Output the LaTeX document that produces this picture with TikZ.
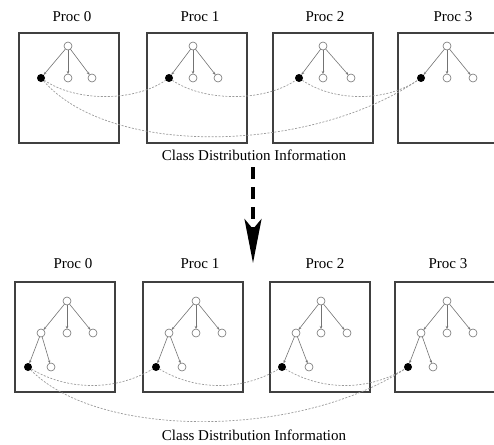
\documentclass[tikz,border=0pt]{standalone}
\usepackage{fontspec}
\setmainfont{Liberation Serif}
\usetikzlibrary{arrows.meta}
\colorlet{box color}{black!75}
\colorlet{edge color}{black!55}
\colorlet{link color}{black!40}
\tikzset{
    x={1pt},
    y={-1pt},
    proc box/.style={
        draw=box color,
        line width={1.4pt},
        minimum width={100},
        minimum height={110},
        inner sep=0pt,
    },
    proc label/.style={
        font={\fontsize{15}{17}\selectfont},
        inner sep=0pt,
    },
    info label/.style={
        font={\fontsize{15}{17}\selectfont},
        inner sep=0pt,
    },
    tree node/.style={
        circle, draw=edge color, fill=white,
        line width={0.6pt},
        inner sep=0pt, outer sep=0pt,
        minimum size={8},
    },
    class node/.style={
        circle, fill=black,
        inner sep=0pt, outer sep=0pt,
        minimum size={8},
    },
    tree edge/.style={
        draw=edge color,
        line width={0.6pt},
        -{Stealth[length=3pt,width=2.5pt]},
    },
    class link/.style={
        draw=link color,
        line width={0.7pt},
        dash pattern=on 2pt off 1.5pt,
    },
    flow arrow/.style={
        draw=black,
        line width={3.5pt},
        dash pattern=on 12pt off 8pt,
        -{Stealth[length=44pt,width=17pt,inset=10pt]},
    },
}

\begin{document}
\begin{tikzpicture}
\useasboundingbox (0,0) rectangle (494,444);
% processors before
\node[proc box] (top0) at (69,88) {};
\node[proc box] (top1) at (197,88) {};
\node[proc box] (top2) at (323,88) {};
\node[proc box] (top3) at (448,88) {};
\node[proc label] (top0 label) at (72,17) {Proc 0};
\node[proc label] (top1 label) at (200,17) {Proc 1};
\node[proc label] (top2 label) at (325,17) {Proc 2};
\node[proc label] (top3 label) at (453,17) {Proc 3};
% trees before
\node[tree node] (t0 root) at (68,46) {};
\node[class node] (t0 class) at (41,78) {};
\node[tree node] (t0 mid) at (68,78) {};
\node[tree node] (t0 right) at (92,78) {};
\node[tree node] (t1 root) at (193,46) {};
\node[class node] (t1 class) at (169,78) {};
\node[tree node] (t1 mid) at (193,78) {};
\node[tree node] (t1 right) at (218,78) {};
\node[tree node] (t2 root) at (323,46) {};
\node[class node] (t2 class) at (299,78) {};
\node[tree node] (t2 mid) at (323,78) {};
\node[tree node] (t2 right) at (351,78) {};
\node[tree node] (t3 root) at (447,46) {};
\node[class node] (t3 class) at (421,78) {};
\node[tree node] (t3 mid) at (447,78) {};
\node[tree node] (t3 right) at (473,78) {};
\path[tree edge] (t0 root) -- (t0 class);
\path[tree edge] (t0 root) -- (t0 mid);
\path[tree edge] (t0 root) -- (t0 right);
\path[tree edge] (t1 root) -- (t1 class);
\path[tree edge] (t1 root) -- (t1 mid);
\path[tree edge] (t1 root) -- (t1 right);
\path[tree edge] (t2 root) -- (t2 class);
\path[tree edge] (t2 root) -- (t2 mid);
\path[tree edge] (t2 root) -- (t2 right);
\path[tree edge] (t3 root) -- (t3 class);
\path[tree edge] (t3 root) -- (t3 mid);
\path[tree edge] (t3 root) -- (t3 right);
% class links before
\path[class link] (t0 class) .. controls +(35,24) and +(-35,24) .. (t1 class);
\path[class link] (t1 class) .. controls +(35,24) and +(-35,24) .. (t2 class);
\path[class link] (t2 class) .. controls +(35,24) and +(-35,24) .. (t3 class);
\path[class link] (t0 class) .. controls +(70,80) and +(-110,75) .. (t3 class);
\node[info label] (top info) at (254,155) {Class Distribution Information};
% flow
\coordinate (flow start) at (253,167);
\coordinate (flow end) at (253,263);
\path[flow arrow] (flow start) -- (flow end);
% processors after
\node[proc box] (bot0) at (65,337) {};
\node[proc box] (bot1) at (193,337) {};
\node[proc box] (bot2) at (320,337) {};
\node[proc box] (bot3) at (445,337) {};
\node[proc label] (bot0 label) at (73,264) {Proc 0};
\node[proc label] (bot1 label) at (200,264) {Proc 1};
\node[proc label] (bot2 label) at (325,264) {Proc 2};
\node[proc label] (bot3 label) at (448,264) {Proc 3};
% trees after
\node[tree node] (b0 root) at (67,301) {};
\node[tree node] (b0 left) at (41,333) {};
\node[tree node] (b0 mid) at (67,333) {};
\node[tree node] (b0 right) at (93,333) {};
\node[class node] (b0 class) at (28,367) {};
\node[tree node] (b0 leaf) at (51,367) {};
\node[tree node] (b1 root) at (196,301) {};
\node[tree node] (b1 left) at (169,333) {};
\node[tree node] (b1 mid) at (196,333) {};
\node[tree node] (b1 right) at (222,333) {};
\node[class node] (b1 class) at (156,367) {};
\node[tree node] (b1 leaf) at (182,367) {};
\node[tree node] (b2 root) at (321,301) {};
\node[tree node] (b2 left) at (296,333) {};
\node[tree node] (b2 mid) at (321,333) {};
\node[tree node] (b2 right) at (347,333) {};
\node[class node] (b2 class) at (282,367) {};
\node[tree node] (b2 leaf) at (309,367) {};
\node[tree node] (b3 root) at (447,301) {};
\node[tree node] (b3 left) at (421,333) {};
\node[tree node] (b3 mid) at (447,333) {};
\node[tree node] (b3 right) at (473,333) {};
\node[class node] (b3 class) at (408,367) {};
\node[tree node] (b3 leaf) at (433,367) {};
\path[tree edge] (b0 root) -- (b0 left);
\path[tree edge] (b0 root) -- (b0 mid);
\path[tree edge] (b0 root) -- (b0 right);
\path[tree edge] (b0 left) -- (b0 class);
\path[tree edge] (b0 left) -- (b0 leaf);
\path[tree edge] (b1 root) -- (b1 left);
\path[tree edge] (b1 root) -- (b1 mid);
\path[tree edge] (b1 root) -- (b1 right);
\path[tree edge] (b1 left) -- (b1 class);
\path[tree edge] (b1 left) -- (b1 leaf);
\path[tree edge] (b2 root) -- (b2 left);
\path[tree edge] (b2 root) -- (b2 mid);
\path[tree edge] (b2 root) -- (b2 right);
\path[tree edge] (b2 left) -- (b2 class);
\path[tree edge] (b2 left) -- (b2 leaf);
\path[tree edge] (b3 root) -- (b3 left);
\path[tree edge] (b3 root) -- (b3 mid);
\path[tree edge] (b3 root) -- (b3 right);
\path[tree edge] (b3 left) -- (b3 class);
\path[tree edge] (b3 left) -- (b3 leaf);
% class links after
\path[class link] (b0 class) .. controls +(40,24) and +(-40,24) .. (b1 class);
\path[class link] (b1 class) .. controls +(40,24) and +(-40,24) .. (b2 class);
\path[class link] (b2 class) .. controls +(40,24) and +(-40,24) .. (b3 class);
\path[class link] (b0 class) .. controls +(70,72) and +(-110,72) .. (b3 class);
\node[info label] (bot info) at (254,435) {Class Distribution Information};
\end{tikzpicture}
\end{document}
